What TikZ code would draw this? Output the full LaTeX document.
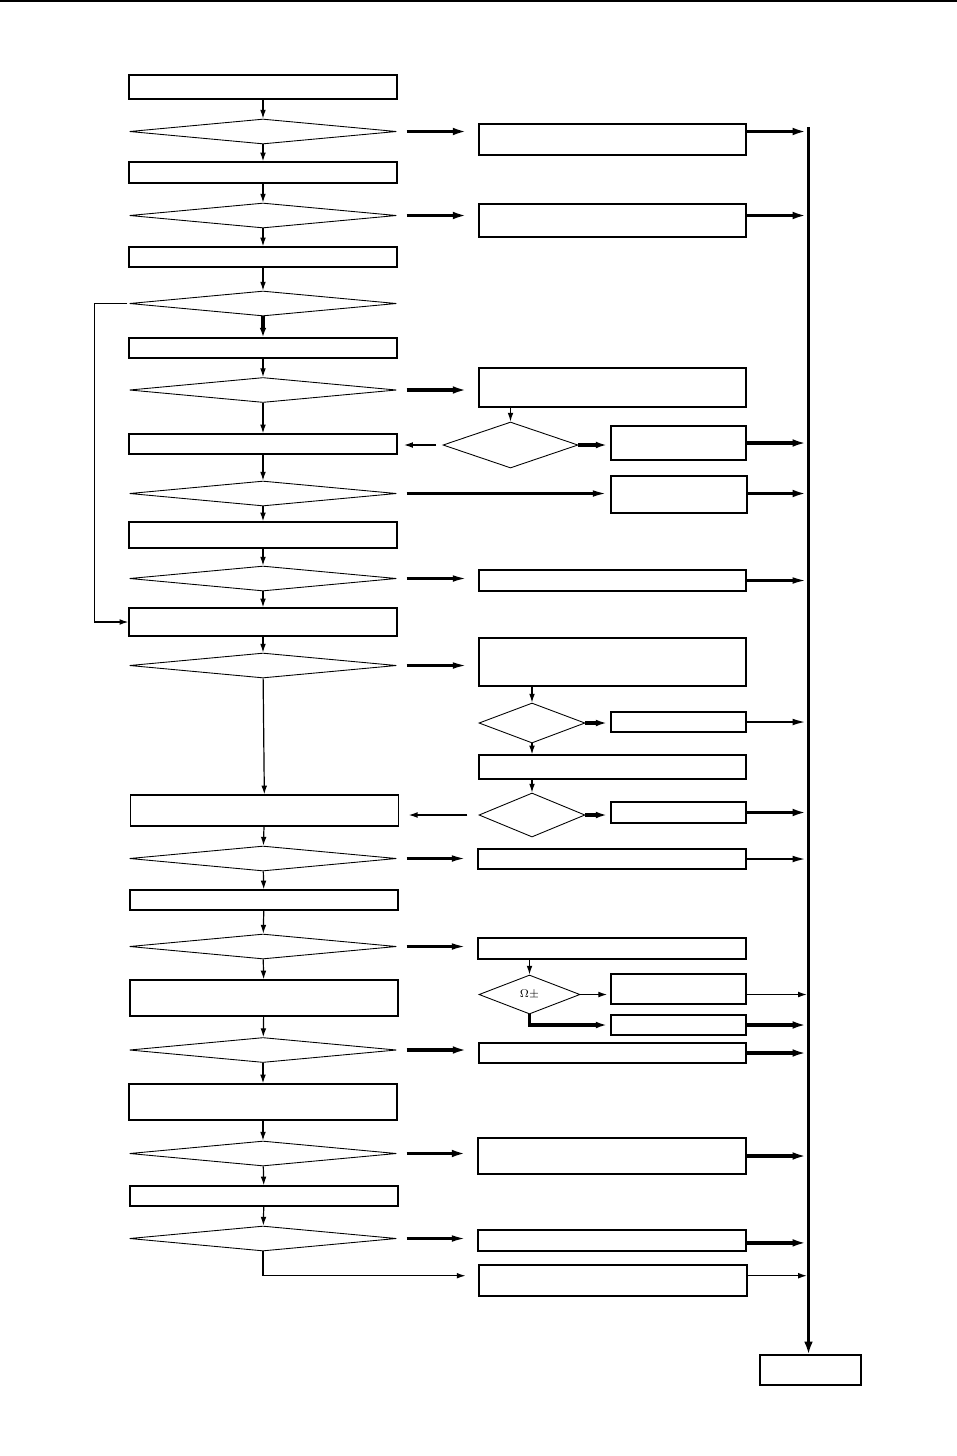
\documentclass[tikz,border=0pt]{standalone}
\usepackage{amsmath}
\usepackage{amssymb}
\usepackage{tikz}
\usetikzlibrary{arrows.meta, shapes.geometric}

\newcommand{\pxu}{0.022cm}

\begin{document}
\begin{tikzpicture}[x=0.022cm, y=-0.022cm,
    box/.style 2 args={draw, line width=0.8pt, inner sep=0pt,
        minimum width=#1*\pxu, minimum height=#2*\pxu},
    dec/.style 2 args={draw, diamond, line width=0.55pt, inner sep=0pt,
        minimum width=#1*\pxu, minimum height=#2*\pxu},
    thinarr/.style={-{Latex[length=5.5pt,width=3.6pt]}, line width=0.75pt},
    midarr/.style={-{Latex[length=9pt,width=4.2pt]}, line width=1.5pt},
    thickarr/.style={-{Latex[length=9pt,width=4.8pt]}, line width=2.2pt},
    side/.style={shorten <=6pt, shorten >=7pt}]
    \useasboundingbox (0,0) rectangle (957,1456);

    % Page rule
    \draw[line width=1.2pt] (0,1) -- (957,1);

    % Main column
    \node[box={268}{24}] (b1) at (263,87) {};
    \node[dec={267}{25}] (d1) at (263,131.5) {};
    \node[box={268}{21}] (b2) at (263,172.5) {};
    \node[dec={267}{25}] (d2) at (263,215.5) {};
    \node[box={268}{20}] (b3) at (263,257) {};
    \node[dec={267}{25}] (d3) at (263,303.5) {};
    \node[box={268}{20}] (b4) at (263,348) {};
    \node[dec={267}{25}] (d4) at (263,390) {};
    \node[box={268}{20}] (b5) at (263,444) {};
    \node[dec={267}{25}] (d5) at (263,493.5) {};
    \node[box={268}{26}] (b6) at (263,535) {};
    \node[dec={267}{25}] (d6) at (263,578.5) {};
    \node[box={268}{28}] (b7) at (263,622) {};
    \node[dec={267}{25}] (d7) at (263,665.5) {};
    \node[box={268}{31}] (b8) at (264.5,810.5) {};
    \node[dec={267}{25}] (d8) at (263,858.5) {};
    \node[box={268}{20}] (b9) at (264,900) {};
    \node[dec={267}{25}] (d9) at (263,946.5) {};
    \node[box={268}{36}] (b10) at (264,998) {};
    \node[dec={267}{25}] (d10) at (263,1050) {};
    \node[box={268}{36}] (b11) at (263,1102) {};
    \node[dec={267}{25}] (d11) at (263,1153.5) {};
    \node[box={268}{20}] (b12) at (264,1196) {};
    \node[dec={267}{25}] (d12) at (263,1238.5) {};

    % Right column
    \node[box={267}{31}] (r1) at (612.5,139.5) {};
    \node[box={267}{33}] (r2) at (612.5,220.5) {};
    \node[box={267}{39}] (r3) at (612.5,387.5) {};
    \node[dec={135}{46}] (rd1) at (510.5,445) {};
    \node[box={135}{34}] (r4) at (678.5,443) {};
    \node[box={136}{37}] (r5) at (679,494.5) {};
    \node[box={267}{21}] (r6) at (612.5,580.5) {};
    \node[box={267}{48}] (r7) at (612.5,662) {};
    \node[dec={106}{40}] (rd2) at (532,723) {};
    \node[box={135}{20}] (r8) at (678.5,722) {};
    \node[box={267}{24}] (r9) at (612.5,767) {};
    \node[dec={106}{44}] (rd3) at (532,815) {};
    \node[box={135}{21}] (r10) at (678.5,812.5) {};
    \node[box={268}{20}] (r11) at (612,859) {};
    \node[box={268}{21}] (r12) at (612,948.5) {};
    \node[dec={101}{39}] (rd4) at (529.5,994.5) {\scriptsize$\Omega\pm$};
    \node[box={135}{30}] (r13) at (678.5,989) {};
    \node[box={135}{20}] (r14) at (678.5,1025) {};
    \node[box={267}{20}] (r15) at (612.5,1053) {};
    \node[box={268}{36}] (r16) at (612,1156) {};
    \node[box={268}{21}] (r17) at (612,1240.5) {};
    \node[box={268}{31}] (r18) at (613,1280.5) {};

    % Collector bar and end box
    \coordinate (bartop) at (808.5,127);
    \node[box={101}{30}] (fin) at (810.5,1370) {};
    \draw[-{Latex[length=8pt,width=5.5pt]}, line width=2.2pt] (bartop) -- (bartop |- fin.north);

    % Main column flow
    \draw[thinarr] (b1) -- (d1);
    \draw[thinarr] (d1) -- (b2);
    \draw[thinarr] (b2) -- (d2);
    \draw[thinarr] (d2) -- (b3);
    \draw[thinarr] (b3) -- (d3);
    \draw[thickarr, -{Latex[length=6pt,width=4.2pt]}] (d3) -- (b4);
    \draw[thinarr] (b4) -- (d4);
    \draw[thinarr] (d4) -- (b5);
    \draw[thinarr] (b5) -- (d5);
    \draw[thinarr] (d5) -- (b6);
    \draw[thinarr] (b6) -- (d6);
    \draw[thinarr] (d6) -- (b7);
    \draw[thinarr] (b7) -- (d7);
    \draw[thinarr] (d7) -- (b8);
    \draw[thinarr] (b8) -- (d8);
    \draw[thinarr] (d8) -- (b9);
    \draw[thinarr] (b9) -- (d9);
    \draw[thinarr] (d9) -- (b10);
    \draw[thinarr] (b10) -- (d10);
    \draw[thinarr] (d10) -- (b11);
    \draw[thinarr] (b11) -- (d11);
    \draw[thinarr] (d11) -- (b12);
    \draw[thinarr] (b12) -- (d12);

    % Loop back
    \draw[thinarr] ([xshift=-1pt]d3.west) -- ++(-33,0) |- (b7.west);

    % Branches to the right
    \draw[thickarr, side] (d1.east) -- (d1.east -| r1.west);
    \draw[thickarr, side] (d2.east) -- (d2.east -| r2.west);
    \draw[thickarr, side] (d4.east) -- (d4.east -| r3.west);
    \draw[midarr, shorten <=6pt, shorten >=2pt] (d5.east) -- (d5.east -| r5.west);
    \draw[midarr, side] (d6.east) -- (d6.east -| r6.west);
    \draw[midarr, side] (d7.east) -- (d7.east -| r7.west);
    \draw[midarr, side] (d8.east) -- (d8.east -| r11.west);
    \draw[midarr, side] (d9.east) -- (d9.east -| r12.west);
    \draw[thickarr, side] (d10.east) -- (d10.east -| r15.west);
    \draw[thickarr, side] (d11.east) -- (d11.east -| r16.west);
    \draw[midarr, side] (d12.east) -- (d12.east -| r17.west);
    \draw[thinarr, shorten >=8pt] (d12.south) |- ([yshift=3pt]r18.west);

    % Sub-branches
    \draw[thinarr] (rd1.north |- r3.south) -- (rd1.north);
    \draw[thinarr, shorten <=4pt, shorten >=4pt] (rd1.west) -- (rd1.west -| b5.east);
    \draw[thickarr, -{Latex[length=7pt,width=4.2pt]}, shorten >=2pt] (rd1.east) -- (rd1.east -| r4.west);
    \draw[thinarr] (rd2.north |- r7.south) -- (rd2.north);
    \draw[thickarr, -{Latex[length=7pt,width=4.2pt]}, shorten >=2pt] (rd2.east) -- (rd2.east -| r8.west);
    \draw[thinarr] (rd2.south) -- (rd2.south |- r9.north);
    \draw[thinarr] (rd3.north |- r9.south) -- (rd3.north);
    \draw[thinarr, shorten <=7pt, shorten >=6pt] (rd3.west) -- (rd3.west -| b8.east);
    \draw[thickarr, -{Latex[length=7pt,width=4.2pt]}, shorten >=2pt] (rd3.east) -- (rd3.east -| r10.west);
    \draw[thinarr] (rd4.north |- r12.south) -- (rd4.north);
    \draw[thinarr, shorten >=2pt] (rd4.east) -- (rd4.east -| r13.west);
    \draw[thickarr, -{Latex[length=7pt,width=4.2pt]}, shorten >=2pt] (rd4.south) |- (r14.west);

    % Into the collector bar
    \draw[thickarr, shorten >=1pt] (d1.east -| r1.east) -- (d1.east -| bartop);
    \draw[thickarr, shorten >=1pt] (d2.east -| r2.east) -- (d2.east -| bartop);
    \draw[thickarr, shorten >=1pt] (r4.east) -- (r4.east -| bartop);
    \draw[thickarr, shorten >=1pt] (d5.east -| r5.east) -- (d5.east -| bartop);
    \draw[midarr, shorten >=1pt] (r6.east) -- (r6.east -| bartop);
    \draw[midarr, shorten >=1pt] (r8.east) -- (r8.east -| bartop);
    \draw[thickarr, shorten >=1pt] (r10.east) -- (r10.east -| bartop);
    \draw[midarr, shorten >=1pt] (r11.east) -- (r11.east -| bartop);
    \draw[thinarr, shorten >=1pt] (rd4.east -| r13.east) -- (rd4.east -| bartop);
    \draw[thickarr, shorten >=1pt] (r14.east) -- (r14.east -| bartop);
    \draw[thickarr, shorten >=1pt] (r15.east) -- (r15.east -| bartop);
    \draw[thickarr, shorten >=1pt] (r16.east) -- (r16.east -| bartop);
    \draw[thickarr, shorten >=1pt] ([yshift=-1.5pt]r17.east) -- ([yshift=-1.5pt]r17.east -| bartop);
    \draw[thinarr, shorten >=1pt] ([yshift=3pt]r18.east) -- ([yshift=3pt]r18.east -| bartop);
\end{tikzpicture}
\end{document}
